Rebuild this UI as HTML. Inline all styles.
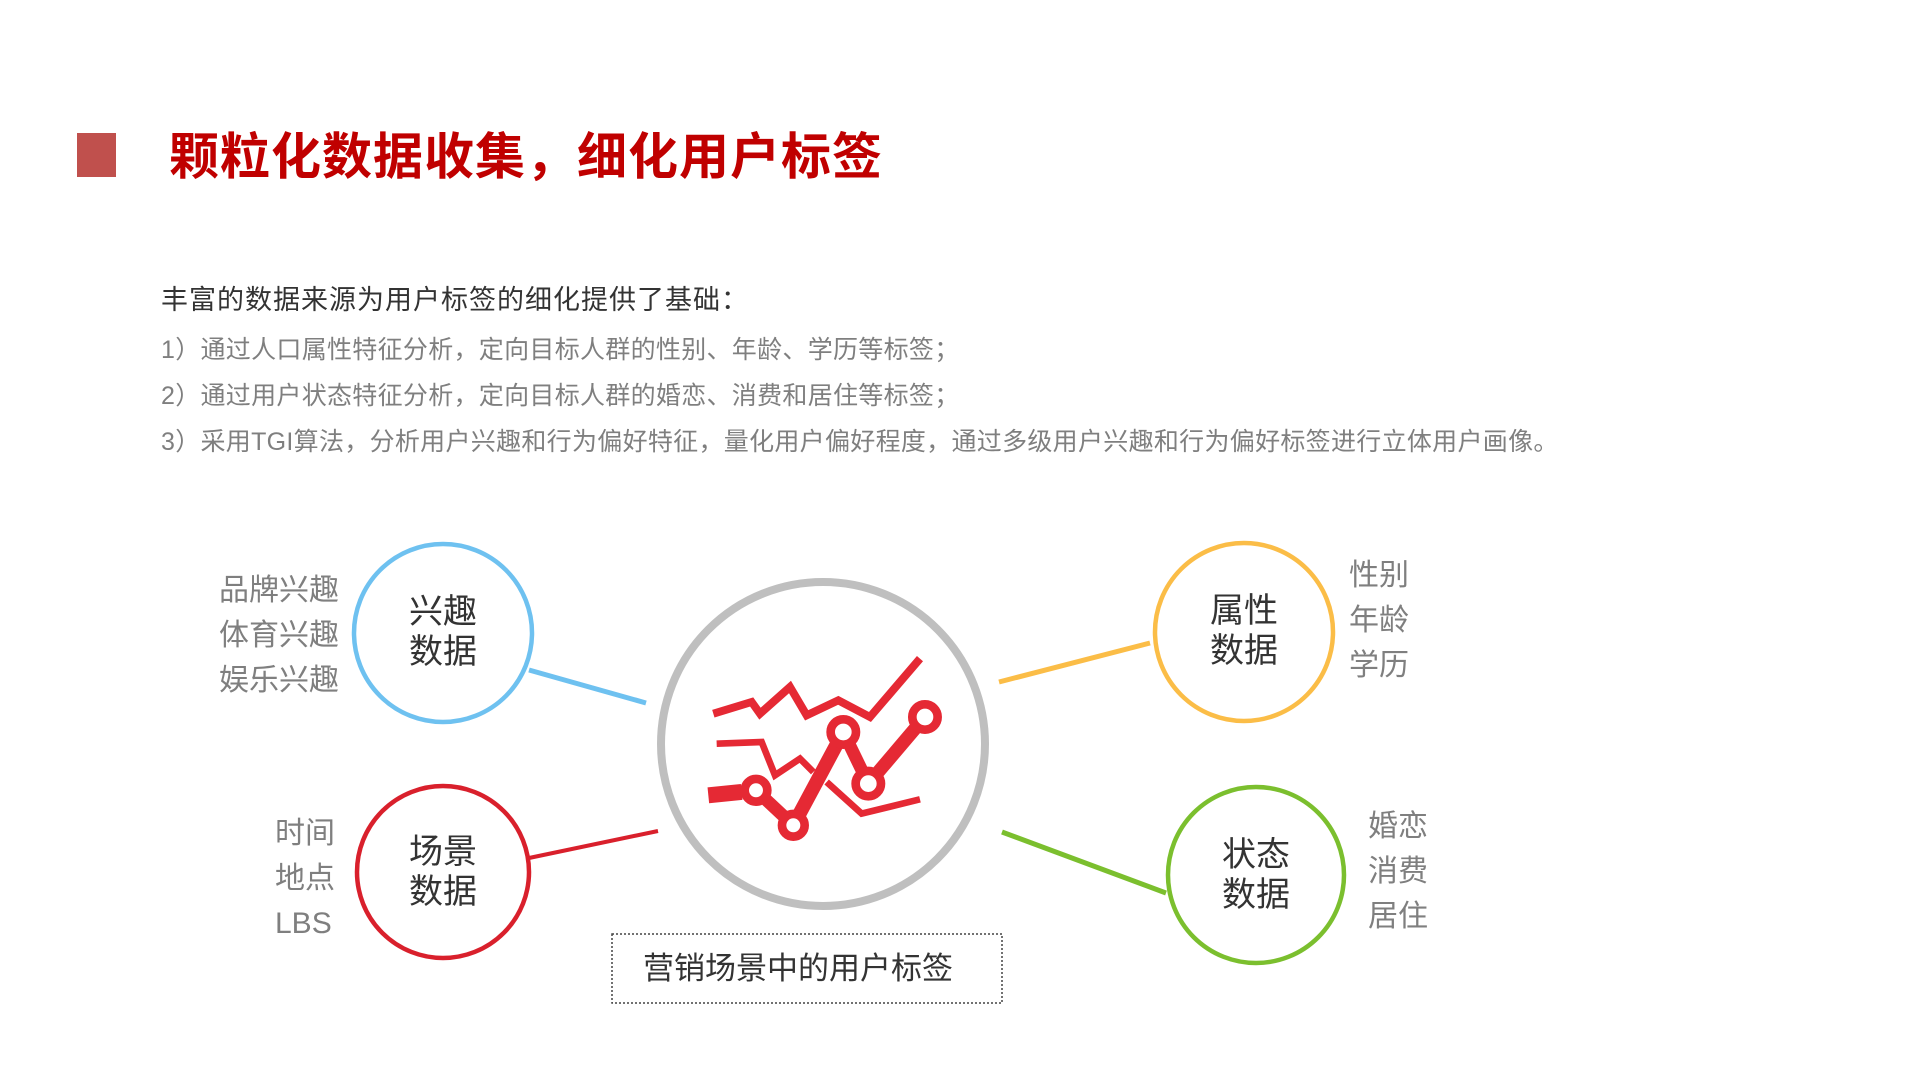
<!DOCTYPE html>
<html><head><meta charset="utf-8"><style>
html,body{margin:0;padding:0;background:#fff;}
body{width:1920px;height:1080px;position:relative;overflow:hidden;font-family:"Liberation Sans","Noto Sans CJK SC",sans-serif;}
.t{position:absolute;white-space:nowrap;}
.g{color:#7f7f7f;font-size:30px;line-height:30px;}
.c{color:#333;font-size:34px;line-height:40px;text-align:center;width:120px;}
</style></head><body>
<div style="position:absolute;left:77px;top:133px;width:39px;height:44px;background:#c0504d;"></div>
<div class="t" style="left:169px;top:128px;font-size:50px;font-weight:bold;color:#c00000;letter-spacing:1px;line-height:58px;">颗粒化数据收集，细化用户标签</div>
<div class="t" style="left:161px;top:285px;font-size:27px;color:#333;line-height:30px;letter-spacing:1px;">丰富的数据来源为用户标签的细化提供了基础：</div>
<div class="t" style="left:161px;top:335px;font-size:25px;color:#7f7f7f;line-height:30px;letter-spacing:0.3px;">1）通过人口属性特征分析，定向目标人群的性别、年龄、学历等标签；</div>
<div class="t" style="left:161px;top:381px;font-size:25px;color:#7f7f7f;line-height:30px;letter-spacing:0.3px;">2）通过用户状态特征分析，定向目标人群的婚恋、消费和居住等标签；</div>
<div class="t" style="left:161px;top:427px;font-size:25px;color:#7f7f7f;line-height:30px;letter-spacing:0.3px;">3）采用TGI算法，分析用户兴趣和行为偏好特征，量化用户偏好程度，通过多级用户兴趣和行为偏好标签进行立体用户画像。</div>

<svg width="1920" height="1080" style="position:absolute;left:0;top:0">
<line x1="529" y1="670" x2="646" y2="703" stroke="#6ec1f0" stroke-width="5"/>
<line x1="529" y1="858" x2="658" y2="831" stroke="#d9202c" stroke-width="4"/>
<line x1="999" y1="682" x2="1150" y2="643" stroke="#fbbd47" stroke-width="5"/>
<line x1="1002" y1="832" x2="1166" y2="893" stroke="#7bbf2e" stroke-width="5"/>
<circle cx="443" cy="633" r="89" fill="none" stroke="#6ec1f0" stroke-width="4.5"/>
<circle cx="443" cy="872" r="86" fill="none" stroke="#d9202c" stroke-width="4.5"/>
<circle cx="1244" cy="632" r="89" fill="none" stroke="#fbbd47" stroke-width="4.5"/>
<circle cx="1256" cy="875" r="88" fill="none" stroke="#7bbf2e" stroke-width="4.5"/>
<circle cx="823" cy="744" r="162" fill="none" stroke="#bfbfbf" stroke-width="8"/>
<g transform="translate(660,562) scale(0.3333)" fill="none" stroke="#e52934" stroke-linejoin="miter">
<polyline points="160,455 275,420 300,455 390,375 440,460 535,415 630,465 780,290" stroke-width="24"/>
<polyline points="170,545 305,540 345,640 420,590 460,630" stroke-width="20"/>
<polyline points="500,660 605,755 780,712" stroke-width="20"/>
<polyline points="145,700 245,690" stroke-width="48"/>
<line x1="288" y1="685" x2="400" y2="790" stroke-width="38"/>
<line x1="400" y1="790" x2="550" y2="510" stroke-width="42"/>
<line x1="550" y1="510" x2="625" y2="665" stroke-width="38"/>
<line x1="625" y1="665" x2="795" y2="465" stroke-width="40"/>
<g fill="#fff" stroke-width="26">
<circle cx="288" cy="685" r="34"/><circle cx="400" cy="790" r="34"/>
<circle cx="550" cy="510" r="38"/><circle cx="625" cy="665" r="38"/><circle cx="795" cy="465" r="38"/>
</g></g>
<rect x="612" y="934" width="390" height="69" fill="none" stroke="#444" stroke-width="1.5" stroke-dasharray="2,2"/>
</svg>

<div class="t c" style="left:383px;top:592px;">兴趣<br>数据</div>
<div class="t c" style="left:383px;top:832px;">场景<br>数据</div>
<div class="t c" style="left:1184px;top:591px;">属性<br>数据</div>
<div class="t c" style="left:1196px;top:835px;">状态<br>数据</div>

<div class="t g" style="left:209px;top:568px;line-height:45px;text-align:right;width:130px;">品牌兴趣<br>体育兴趣<br>娱乐兴趣</div>
<div class="t g" style="left:275px;top:811px;line-height:45px;">时间<br>地点<br>LBS</div>
<div class="t g" style="left:1349px;top:553px;line-height:45px;">性别<br>年龄<br>学历</div>
<div class="t g" style="left:1368px;top:804px;line-height:45px;">婚恋<br>消费<br>居住</div>
<div class="t" style="left:643px;top:950px;font-size:31px;color:#333;line-height:38px;">营销场景中的用户标签</div>
</body></html>
